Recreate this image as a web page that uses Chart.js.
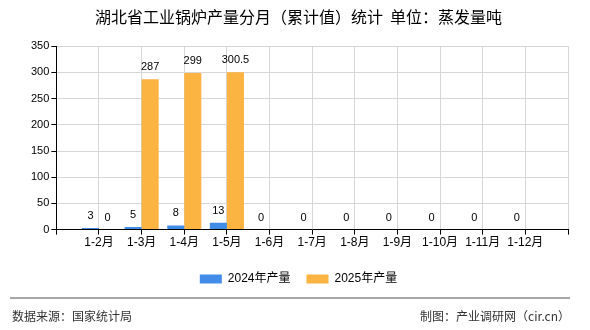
<!DOCTYPE html>
<html>
<head>
<meta charset="utf-8">
<script src="https://cdn.jsdelivr.net/npm/chart.js@4.4.1/dist/chart.umd.min.js"></script>
<style>
  html, body { margin: 0; padding: 0; background: #fff; }
</style>
</head>
<body>
<canvas id="c" width="590" height="330"></canvas>
<script>
const months = ["1-2月", "1-3月", "1-4月", "1-5月", "1-6月", "1-7月", "1-8月", "1-9月", "1-10月", "1-11月", "1-12月"];
const output2024 = [3, 5, 8, 13, 0, 0, 0, 0, 0, 0, 0];
const output2025 = [0, 287, 299, 300.5, null, null, null, null, null, null, null];
const yTicks = [0, 50, 100, 150, 200, 250, 300, 350];

const FONT = "'Liberation Sans', 'Noto Sans CJK SC', sans-serif";

// blank slot at each end so the month labels sit on the grid lines
const pad = arr => [null, ...arr, null];

const valueLabels = {
  id: "valueLabels",
  afterDatasetsDraw(chart) {
    const ctx = chart.ctx;
    ctx.save();
    ctx.font = "11px " + FONT;
    ctx.fillStyle = "#000";
    ctx.textAlign = "center";
    ctx.textBaseline = "alphabetic";
    chart.data.datasets.forEach((ds, i) => {
      chart.getDatasetMeta(i).data.forEach((bar, j) => {
        const v = ds.data[j];
        if (v === null || v === undefined) return;
        ctx.fillText(String(v), bar.x, bar.y - 9);
      });
    });
    ctx.restore();
  }
};

const footer = {
  id: "footer",
  afterDraw(chart) {
    const ctx = chart.ctx;
    ctx.save();
    ctx.strokeStyle = "#888";
    ctx.lineWidth = 1.5;
    ctx.beginPath();
    ctx.moveTo(10, 298);
    ctx.lineTo(570, 298);
    ctx.stroke();
    ctx.font = "12px 'Noto Sans CJK SC', sans-serif";
    ctx.fillStyle = "#333";
    ctx.textBaseline = "middle";
    ctx.textAlign = "left";
    ctx.fillText("数据来源：国家统计局", 12, 316);
    ctx.textAlign = "right";
    ctx.fillText("制图：产业调研网（cir.cn）", 570, 316);
    ctx.restore();
  }
};

new Chart(document.getElementById("c"), {
  type: "bar",
  data: {
    labels: ["", ...months, ""],
    datasets: [
      { label: "2024年产量", data: pad(output2024), backgroundColor: "#418ce8", borderWidth: 0 },
      { label: "2025年产量", data: pad(output2025), backgroundColor: "#fbb341", borderWidth: 0 }
    ]
  },
  options: {
    responsive: false,
    animation: false,
    events: [],
    categoryPercentage: 0.8,
    barPercentage: 1,
    layout: { padding: { left: 29, right: 22, bottom: 35 } },
    plugins: {
      title: {
        display: true,
        text: "湖北省工业锅炉产量分月（累计值）统计  单位：蒸发量吨",
        color: "#000",
        font: { family: "'Noto Sans CJK SC', sans-serif", size: 16, weight: "normal" },
        padding: { top: 7, bottom: 20 }
      },
      legend: {
        position: "bottom",
        labels: {
          color: "#000",
          font: { family: FONT, size: 12 },
          boxWidth: 22,
          boxHeight: 9,
          padding: 16
        }
      },
      tooltip: { enabled: false }
    },
    scales: {
      x: {
        offset: false,
        grid: { offset: false, color: "#d6d6d6", tickColor: "#000", tickLength: 5 },
        border: { color: "#000", width: 1 },
        ticks: { color: "#000", font: { family: FONT, size: 12 }, padding: 1, maxRotation: 0, autoSkip: false },
        afterFit: s => { s.height += 6; }
      },
      y: {
        min: 0,
        max: 350,
        afterBuildTicks: s => { s.ticks = yTicks.map(v => ({ value: v })); },
        grid: { color: "#d6d6d6", tickColor: "#000", tickLength: 5 },
        border: { color: "#000", width: 1 },
        ticks: { color: "#000", font: { family: FONT, size: 11 }, padding: 2 }
      }
    }
  },
  plugins: [valueLabels, footer]
});
</script>
</body>
</html>
